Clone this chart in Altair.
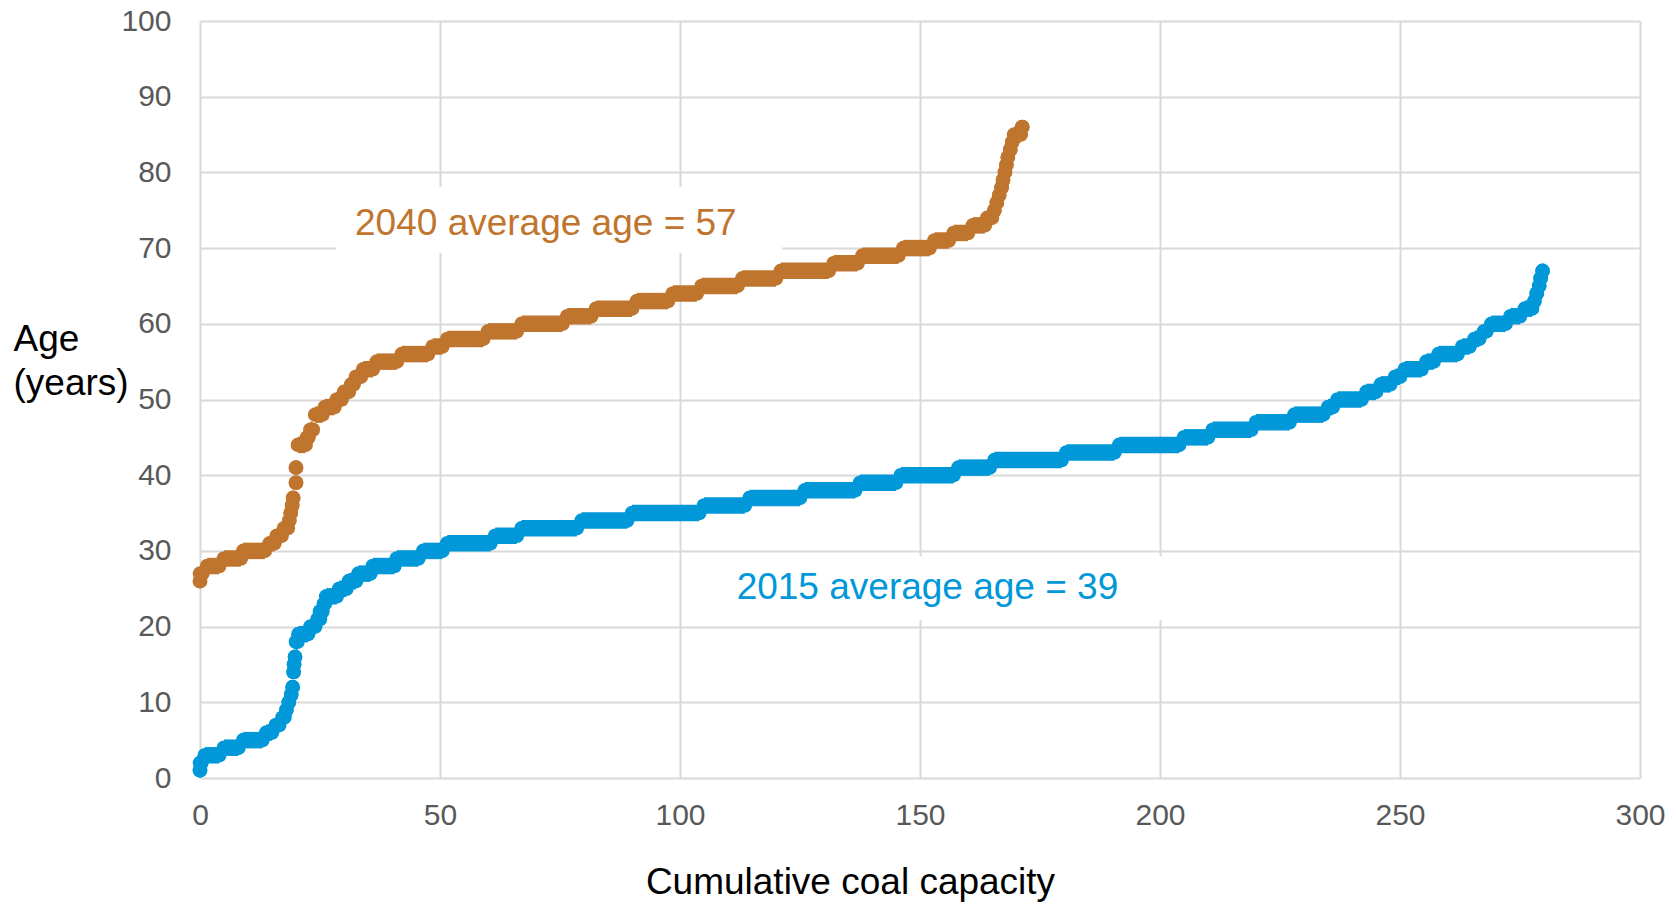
import altair as alt
import pandas as pd

# ---------------- data ----------------
# 2015 series: for every age (years) the cumulative-capacity span of its dots
age_2015 = [1, 2, 3, 4, 5, 6, 7, 8, 9, 10, 11, 12, 14, 15, 16, 18, 19, 20, 21, 22,
            23, 24, 25, 26, 27, 28, 29, 30, 31, 32, 33, 34, 35, 36, 37, 38, 39, 40,
            41, 42, 43, 44, 45, 46, 47, 48, 49, 50, 51, 52, 53, 54, 55, 56, 57, 58,
            59, 60, 61, 62, 63, 64, 65, 66, 67]
start_2015 = [0, 0, 1, 5, 9, 13.8, 15.8, 17.2, 18, 18.5, 19, 19.3, 19.5, 19.6, 19.8, 20, 20.5, 23, 24.5, 25,
              25.8, 26.3, 29, 31, 33, 36, 41, 46.5, 51.5, 61.5, 67, 79.5, 90, 105, 114.5, 126, 137.5, 146,
              158, 165.5, 180.5, 191.5, 205, 211, 220, 228, 235, 237, 243, 246, 249, 251, 255.5, 258, 263, 265.5,
              267.5, 269, 273, 276, 278, 278.5, 279, 279.3, 279.7]
end_2015 = [0, 0.3, 4, 8, 13, 15, 16.5, 17.6, 18, 18.5, 19, 19.3, 19.5, 19.6, 19.8, 20.3, 22.5, 24, 25, 25.5,
            26, 28.5, 30.5, 32.5, 35.5, 40.5, 45.5, 50.5, 60.5, 66, 78.5, 89, 104, 113.5, 125, 136.5, 145, 157,
            164.5, 179.5, 190.5, 204, 210, 219, 227, 234, 236, 242, 245, 248, 250, 254.5, 257, 262, 264.5, 266.5,
            268, 272, 275, 277.5, 278, 278.5, 279, 279.3, 279.7]

# 2040 series
age_2040 = [26, 27, 28, 29, 30, 31, 32, 33, 34, 35, 36, 37, 39, 41, 44, 45, 46, 48, 49, 50,
            51, 52, 53, 54, 55, 56, 57, 58, 59, 60, 61, 62, 63, 64, 65, 66, 67, 68, 69, 70,
            71, 72, 73, 74, 75, 76, 77, 78, 79, 80, 81, 82, 83, 84, 85, 86]
start_2040 = [0, 0, 1.5, 5, 9, 14.5, 16, 17.5, 18.6, 18.9, 19.2, 19.4, 20, 20, 20.4, 22.3, 23, 24, 26, 28.5,
              30, 31.5, 32.5, 34, 36.8, 42, 48.5, 51.5, 60, 67, 76.5, 82.5, 91, 98.5, 104.5, 113, 121, 132, 138, 146.5,
              153, 157, 161, 164, 165.5, 166, 166.5, 167, 167.3, 167.7, 168, 168.3, 168.8, 169.2, 169.6, 171.3]
end_2040 = [0, 0.5, 4, 8.5, 13.5, 15.5, 17, 18.3, 18.6, 18.9, 19.2, 19.4, 20, 20, 22, 22.6, 23.5, 25.5, 28, 29.5,
            31, 32, 33.5, 36, 41, 47.5, 50.5, 59, 66, 75.5, 81.5, 90, 97.5, 103.5, 112, 120, 131, 137, 145.5, 152,
            156, 160, 163.5, 165, 165.5, 166, 166.5, 167, 167.3, 167.7, 168, 168.3, 168.8, 169.2, 171, 171.3]

# annotations
label_series = ["2040", "2015"]
label_text = ["2040 average age = 57", "2015 average age = 39"]
label_x = [32.3, 111.8]
label_y = [71.7, 23.6]
box_x1 = [28.3, 107.5]
box_x2 = [121.3, 200.5]
box_y1 = [69.4, 20.9]
box_y2 = [78.1, 29.3]

x_ticks = [0, 50, 100, 150, 200, 250, 300]
y_ticks = [0, 10, 20, 30, 40, 50, 60, 70, 80, 90, 100]
series_names = ["2015", "2040"]
series_colors = ["#0098D8", "#BF752E"]

FONT = "Liberation Sans, Arial, sans-serif"

# ---------------- tables ----------------
steps = pd.DataFrame(
    [{"series": "2015", "age": a, "xs": s, "xe": e} for a, s, e in zip(age_2015, start_2015, end_2015)]
    + [{"series": "2040", "age": a, "xs": s, "xe": e} for a, s, e in zip(age_2040, start_2040, end_2040)]
)
dots = pd.concat([
    steps[["series", "age", "xs"]].rename(columns={"xs": "x"}),
    steps[["series", "age", "xe"]].rename(columns={"xe": "x"}),
], ignore_index=True)
labels = pd.DataFrame({"series": label_series, "text": label_text, "x": label_x, "y": label_y,
                       "bx1": box_x1, "bx2": box_x2, "by1": box_y1, "by2": box_y2})

xscale = alt.Scale(domain=[0, 300], nice=False, zero=True)
yscale = alt.Scale(domain=[0, 100], nice=False, zero=True)
cscale = alt.Scale(domain=series_names, range=series_colors)

x_axis = alt.Axis(values=x_ticks, title="Cumulative coal capacity", titleX=650, titleY=115,
                  titleAlign="center", titleBaseline="alphabetic", labelPadding=22, labelFlush=False)
y_axis = alt.Axis(values=y_ticks, title=["Age", "(years)"], titleAngle=0, titleAlign="left",
                  titleBaseline="alphabetic", titleX=-187, titleY=329, titleLineHeight=44,
                  labelPadding=29, labelFlush=False)

boxes = alt.Chart(labels).mark_rect(color="white").encode(
    x=alt.X("bx1:Q", scale=xscale, axis=x_axis),
    x2="bx2:Q",
    y=alt.Y("by1:Q", scale=yscale, axis=y_axis),
    y2="by2:Q",
)

rules = alt.Chart(steps).mark_rule(strokeWidth=16.5, strokeCap="butt").encode(
    x=alt.X("xs:Q", scale=xscale),
    x2="xe:Q",
    y=alt.Y("age:Q", scale=yscale),
    color=alt.Color("series:N", scale=cscale, legend=None),
)

circles = alt.Chart(dots).mark_circle(size=214, opacity=1).encode(
    x=alt.X("x:Q", scale=xscale),
    y=alt.Y("age:Q", scale=yscale),
    color=alt.Color("series:N", scale=cscale, legend=None),
)

texts = alt.Chart(labels).mark_text(align="left", baseline="alphabetic", fontSize=37, font=FONT).encode(
    x=alt.X("x:Q", scale=xscale),
    y=alt.Y("y:Q", scale=yscale),
    text="text:N",
    color=alt.Color("series:N", scale=cscale, legend=None),
)

chart = alt.layer(boxes, rules, circles, texts).properties(
    width=1440,
    height=757,
    autosize=alt.AutoSizeParams(type="none"),
    padding={"left": 192, "top": 13, "right": 26, "bottom": 126},
).configure_view(
    stroke="transparent"
).configure_axis(
    grid=True,
    gridColor="#D9D9D9",
    gridWidth=2,
    domain=False,
    ticks=False,
    labelFont=FONT,
    labelFontSize=30,
    labelColor="#595959",
    titleFont=FONT,
    titleFontSize=37,
    titleFontWeight="normal",
    titleColor="#000000",
)

chart.save("out.html", embed_options={"renderer": "svg", "actions": False})
